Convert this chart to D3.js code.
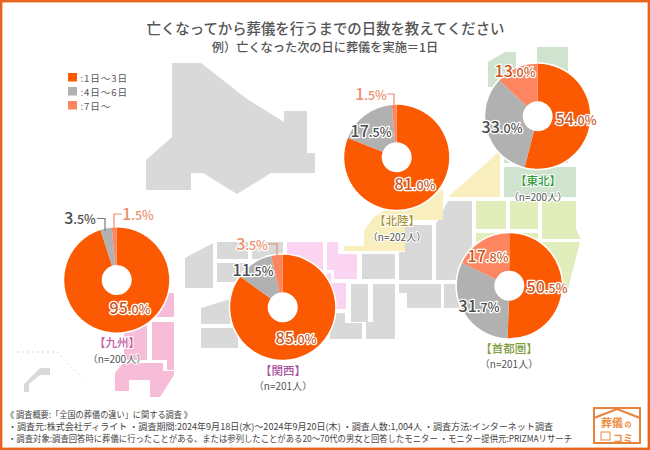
<!DOCTYPE html>
<html>
<head>
<meta charset="utf-8">
<script src="https://cdn.jsdelivr.net/npm/d3@7"></script>
<style>
html, body { margin: 0; padding: 0; background: #fff; }
svg { display: block; }
text { font-family: "Noto Sans CJK JP", "Noto Sans", sans-serif; }
</style>
</head>
<body>
<div id="chart"></div>
<script>
// values
var dayLabels = ["1日〜3日", "4日〜6日", "7日〜"];
var regionNames = ["九州", "関西", "北陸", "東北", "首都圏"];
var regionCounts = [200, 201, 202, 200, 201];
var kyushuValues = [95.0, 3.5, 1.5];
var kansaiValues = [85.0, 11.5, 3.5];
var hokurikuValues = [81.0, 17.5, 1.5];
var tohokuValues = [54.0, 33.0, 13.0];
var shutokenValues = [50.5, 31.7, 17.8];
var allValues = [kyushuValues, kansaiValues, hokurikuValues, tohokuValues, shutokenValues];

var titleText = "亡くなってから葬儀を行うまでの日数を教えてください";
var subtitleText = "例）亡くなった次の日に葬儀を実施＝1日";
var footerLines = [
    "《 調査概要:「全国の葬儀の違い」に関する調査 》",
    "・調査元:株式会社ディライト ・調査期間:2024年9月18日(水)〜2024年9月20日(木) ・調査人数:1,004人 ・調査方法:インターネット調査",
    "・調査対象:調査回答時に葬儀に行ったことがある、または参列したことがある20〜70代の男女と回答したモニター ・モニター提供元:PRIZMAリサーチ"
];
var footerWidths = [186, 545, 564];

var colors = ["#fb5a03", "#b1b1b1", "#fd8560"];
var w = 650, h = 450;
var outerR = 52.5, innerR = 15;

// pie placement and hand placed labels, order follows regionNames
var pieLayout = [
    {cx: 116.7, cy: 280, color: "#c4589f", name: [117, 343], n: [117, 359],
     labels: [[130, 308], [80, 218], [138, 214]],
     leaders: [null, [[97, 218.5], [105, 218.5], [105, 231]], [[122, 214], [114, 214], [114, 231]]]},
    {cx: 282.7, cy: 307.3, color: "#a7529f", name: [283, 371], n: [283, 386],
     labels: [[296, 338], [253, 270], [252, 244]],
     leaders: [null, null, [[268, 244], [277, 244], [277, 257]]]},
    {cx: 396.7, cy: 157.3, color: "#a8933a", name: [397, 221], n: [397, 237],
     labels: [[415, 184], [371, 131], [371, 94]],
     leaders: [null, null, [[387, 94], [394, 94], [394, 106]]]},
    {cx: 537.7, cy: 116.3, color: "#2f9a3c", name: [538, 181], n: [538, 197],
     labels: [[576, 119], [502, 127], [515, 71]],
     leaders: [null, null, null]},
    {cx: 509.3, cy: 285.7, color: "#7f9e3f", name: [509, 349], n: [509, 364],
     labels: [[547, 287], [479, 306], [488, 256]],
     leaders: [null, null, null]}
];

// background map, drawn as blocks
var mapBlocks = [
    {fill: "#d9d9d9", shapes: [
        [[172,63],[201,63],[247,99],[284,122],[284,111],[307,111],[307,153],[315,153],[315,173],[271,173],[237,194],[203,173],[191,173],[191,190],[146,190],[146,160],[172,137]],
        [[185,258],[213,243],[213,288],[185,288]],
        [[217,242],[248,242],[248,259],[217,259]],
        [[217,263],[248,263],[248,282],[217,282]],
        [[252,242],[283,242],[283,259],[252,259]],
        [[201,308],[230,299],[230,324],[201,324]],
        [[201,328],[238,328],[238,348],[201,348]],
        [[362,254],[395,254],[395,279],[362,279]],
        [[405,225],[432,225],[432,280],[399,280],[399,252],[405,252]],
        [[436,224],[448,201],[472,201],[472,280],[436,280]],
        [[399,284],[441,284],[441,308],[407,308],[407,293],[399,293]],
        [[444,284],[470,284],[470,308],[444,308]],
        [[351,284],[368,284],[368,322],[351,322]],
        [[373,284],[395,284],[395,339],[366,339],[366,322],[373,322]],
        [[330,313],[345,313],[345,323],[362,323],[362,339],[330,339]],
        [[24,384],[40,368],[50,368],[50,375],[40,375],[29,384],[29,392],[24,392]]
    ]},
    {fill: "#cfe3cf", shapes: [
        [[488,62],[505,52],[516,52],[516,87],[488,87]],
        [[537,47],[568,47],[568,90],[537,90]],
        [[504,130],[568,130],[568,163],[504,163]],
        [[504,167],[576,167],[576,197],[504,197]]
    ]},
    {fill: "#e1edba", shapes: [
        [[476,201],[506,201],[506,229],[476,229]],
        [[510,201],[538,201],[538,229],[510,229]],
        [[542,201],[576,201],[576,229],[581,239],[542,239]],
        [[476,233],[538,233],[538,260],[476,260]],
        [[542,242],[580,242],[568,289],[542,289]]
    ]},
    {fill: "#f9eebd", shapes: [
        [[448,197],[490,160],[500,150],[500,197]],
        [[344,246],[364,246],[364,231],[373,218],[400,200],[443,190],[443,220],[405,220],[405,251],[344,251]]
    ]},
    {fill: "#fbd4f2", shapes: [
        [[287,242],[323,242],[323,280],[287,280]],
        [[327,242],[338,242],[338,254],[357,254],[357,279],[334,279],[334,270],[327,270]],
        [[327,273],[331,273],[331,283],[346,283],[346,309],[327,309]]
    ]},
    {fill: "#f7bcd8", shapes: [
        [[120,293],[174,293],[174,317],[120,317]],
        [[152,322],[174,322],[174,370],[167,370],[167,360],[152,360]],
        [[124,325],[147,325],[147,360],[124,360]],
        [[115,373],[123,363],[163,363],[163,371],[174,371],[174,375],[160,397],[150,397],[150,380],[129,380],[129,391],[115,391]]
    ]}
];

var svg = d3.select("#chart").append("svg")
    .attr("width", w)
    .attr("height", h);

var lineGen = d3.line();

//map
mapBlocks.forEach(function(block) {
    svg.append("g").selectAll("path")
        .data(block.shapes)
        .enter()
        .append("path")
        .attr("d", function(d) { return lineGen(d) + "Z"; })
        .attr("fill", block.fill);
});

//okinawa divider
svg.append("path")
    .attr("d", lineGen([[17, 352], [57, 352], [82, 378]]))
    .attr("fill", "none")
    .attr("stroke", "#d5d5d5")
    .attr("stroke-width", 1)
    .attr("stroke-dasharray", "2,3");

//frame
svg.append("rect")
    .attr("x", 1.2).attr("y", 1.2)
    .attr("width", w - 2.4).attr("height", h - 2.4)
    .attr("fill", "none")
    .attr("stroke", "#e8641f")
    .attr("stroke-width", 2.4);

//titles
svg.append("text")
    .attr("x", 325.5).attr("y", 34)
    .attr("text-anchor", "middle")
    .attr("font-size", 14.4)
    .attr("font-weight", 500)
    .attr("fill", "#555")
    .text(titleText);

svg.append("text")
    .attr("x", 325).attr("y", 52)
    .attr("text-anchor", "middle")
    .attr("font-size", 12.2)
    .attr("font-weight", 500)
    .attr("fill", "#555")
    .text(subtitleText);

//legend
var legend = svg.append("g").selectAll("g")
    .data(dayLabels)
    .enter()
    .append("g")
    .attr("transform", function(d, i) { return "translate(68," + (73 + i * 14) + ")"; });

legend.append("rect")
    .attr("width", 9).attr("height", 8.5)
    .attr("fill", function(d, i) { return colors[i]; });

legend.append("text")
    .attr("x", 12.5).attr("y", 8.6)
    .attr("font-size", 9.6)
    .attr("letter-spacing", 0.9)
    .attr("fill", "#555")
    .text(function(d) { return ":" + d; });

//pies
var colorScale = d3.scaleOrdinal().domain(dayLabels).range(colors);
var pie = d3.pie().sort(null).value(function(d) { return d; });
var arc = d3.arc().innerRadius(innerR).outerRadius(outerR);

allValues.forEach(function(values, r) {
    var place = pieLayout[r];
    var g = svg.append("g").attr("transform", "translate(" + place.cx + "," + place.cy + ")");

    g.append("circle").attr("r", outerR + 1.5).attr("fill", "#fff");

    g.selectAll("path")
        .data(pie(values))
        .enter()
        .append("path")
        .attr("d", arc)
        .attr("fill", function(d, i) { return colorScale(dayLabels[i]); });

    //leader lines
    place.leaders.forEach(function(pts, i) {
        if (!pts) return;
        svg.append("path")
            .attr("d", lineGen(pts))
            .attr("fill", "none")
            .attr("stroke", i == 2 ? "#ec8f6e" : "#777")
            .attr("stroke-width", 1.2);
    });
});

//percent labels go on top of every pie
allValues.forEach(function(values, r) {
    var place = pieLayout[r];
    values.forEach(function(v, i) {
        var parts = v.toFixed(1).split(".");
        var outside = place.leaders[i] != null;
        var fill = i == 1 ? "#4d4d4d" : (i == 2 && outside ? "#ec8f6e" : "#c9591f");
        var t = svg.append("text")
            .attr("x", place.labels[i][0])
            .attr("y", place.labels[i][1] + 5.5)
            .attr("text-anchor", "middle")
            .attr("font-family", "Roboto, sans-serif")
            .attr("font-size", 16)
            .attr("font-weight", 500)
            .attr("fill", fill)
            .attr("stroke", "#fff")
            .attr("stroke-width", 2.6)
            .attr("stroke-linejoin", "round")
            .attr("paint-order", "stroke");
        t.append("tspan").text(parts[0]);
        t.append("tspan").attr("font-size", 12.5).text("." + parts[1] + "%");
    });
});

//region names
regionNames.forEach(function(name, r) {
    var place = pieLayout[r];
    svg.append("text")
        .attr("x", place.name[0]).attr("y", place.name[1] + 4)
        .attr("text-anchor", "middle")
        .attr("font-size", 11.5)
        .attr("font-weight", 500)
        .attr("fill", place.color)
        .attr("stroke", "#fff")
        .attr("stroke-width", 2)
        .attr("paint-order", "stroke")
        .text("【" + name + "】");
    svg.append("text")
        .attr("x", place.n[0]).attr("y", place.n[1] + 3.5)
        .attr("text-anchor", "middle")
        .attr("font-size", 10)
        .attr("fill", "#555")
        .attr("stroke", "#fff")
        .attr("stroke-width", 2)
        .attr("paint-order", "stroke")
        .text("（n=" + regionCounts[r] + "人）");
});

//footer
svg.append("g").selectAll("text")
    .data(footerLines)
    .enter()
    .append("text")
    .attr("x", function(d, i) { return i == 0 ? 6 : 8; })
    .attr("y", function(d, i) { return 418 + i * 12; })
    .attr("font-size", 8.8)
    .attr("fill", "#444")
    .attr("textLength", function(d, i) { return footerWidths[i]; })
    .attr("lengthAdjust", "spacingAndGlyphs")
    .text(function(d) { return d; });

//logo
var logo = svg.append("g").attr("transform", "translate(594,408)");
logo.append("rect").attr("width", 46).attr("height", 35).attr("fill", "#fff").attr("stroke", "#e8823a").attr("stroke-width", 2);
logo.append("path").attr("d", lineGen([[0, 10], [23, 1], [46, 10]])).attr("fill", "none").attr("stroke", "#e8823a").attr("stroke-width", 2);
logo.append("text").attr("x", 7).attr("y", 19).attr("font-size", 11).attr("font-weight", 700).attr("fill", "#ee8b3d").text("葬儀");
logo.append("text").attr("x", 30.5).attr("y", 19).attr("font-size", 7).attr("font-weight", 700).attr("fill", "#ee8b3d").text("の");
logo.append("rect").attr("x", 7).attr("y", 24).attr("width", 9).attr("height", 8).attr("fill", "none").attr("stroke", "#ee8b3d");
logo.append("text").attr("x", 19).attr("y", 33.5).attr("font-size", 10).attr("font-weight", 700).attr("fill", "#ee8b3d").text("コミ");
</script>
</body>
</html>
